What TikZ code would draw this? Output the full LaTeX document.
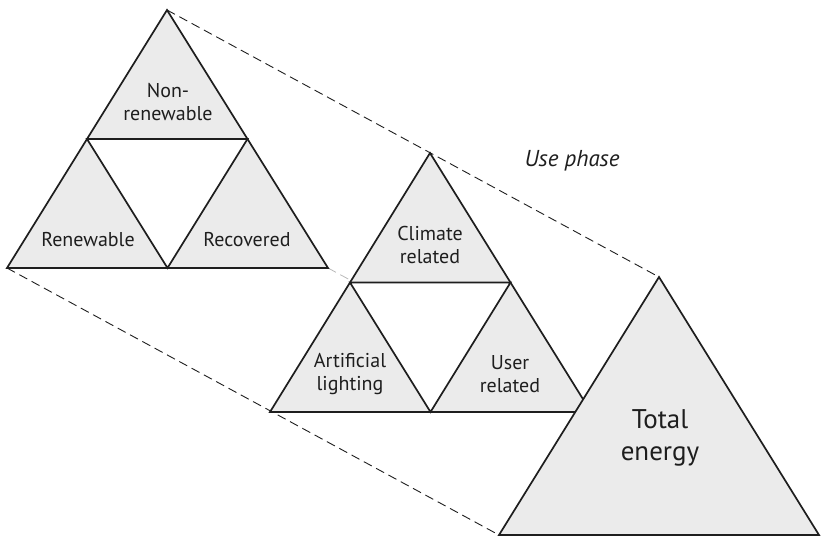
\documentclass[tikz,border=0pt]{standalone}
\usepackage{fontspec}
\setmainfont{PT Sans}
\usetikzlibrary{calc}
\definecolor{ink}{RGB}{30,30,30}
\definecolor{shade}{RGB}{235,235,235}
\definecolor{hidden}{RGB}{185,185,185}
\tikzset{
    part/.style={
        draw=ink,
        line width=1.7pt,
        fill=shade,
        line join=miter
    },
    gap/.style={
        part,
        fill=white
    },
    guide/.style={
        draw=ink,
        line width=0.9pt,
        dash pattern=on 9pt off 5pt
    },
    guidehidden/.style={
        draw=hidden,
        line width=0.8pt,
        dash pattern=on 9pt off 5pt
    },
    tag/.style={
        font=\fontsize{20}{23}\selectfont,
        text=ink,
        align=center,
        inner sep=0pt
    },
    bigtag/.style={
        tag,
        font=\fontsize{27}{32}\selectfont
    },
    phasetag/.style={
        tag,
        font=\fontsize{23}{26}\selectfont\itshape
    }
}

\begin{document}
\begin{tikzpicture}[x=1pt, y=-1pt]
\useasboundingbox (0,0) rectangle (821,538);

% --- Corners of the three triangles ---
\coordinate (src top)   at (167,10);
\coordinate (src left)  at (7,268);
\coordinate (src right) at (328,268);

\coordinate (use top)   at (430,153);
\coordinate (use left)  at (270,412);
\coordinate (use right) at (591,412);

\coordinate (tot top)   at (659,277);
\coordinate (tot left)  at (499,535);
\coordinate (tot right) at (819,535);

% --- Guide lines (drawn first, behind the triangles) ---
\draw[guidehidden] (src right) -- (tot right);
\draw[guide] (src top) -- (tot top);
\draw[guide] (src left) -- (tot left);

% --- Split triangles: outer shape, then the white middle ---
\foreach \t in {src, use} {
    \draw[part] (\t\space top) -- (\t\space left) -- (\t\space right) -- cycle;
    \draw[gap] ($(\t\space top)!0.5!(\t\space left)$)
        -- ($(\t\space top)!0.5!(\t\space right)$)
        -- ($(\t\space left)!0.5!(\t\space right)$) -- cycle;
}

% --- Total energy ---
\draw[part] (tot top) -- (tot left) -- (tot right) -- cycle;

% --- Labels ---
\node[tag] (nonrenew) at (168,102) {Non-\\renewable};
\node[tag] (renew)    at (88,240)  {Renewable};
\node[tag] (recov)    at (247,240) {Recovered};

\node[tag] (climate)  at (430,245) {Climate\\related};
\node[tag] (lighting) at (350,374) {Artificial\\lighting};
\node[tag] (user)     at (510,374) {User\\related};

\node[bigtag] (total) at (660,438) {Total\\energy};
\node[phasetag] (phase) at (572,161) {Use phase};

\end{tikzpicture}
\end{document}
